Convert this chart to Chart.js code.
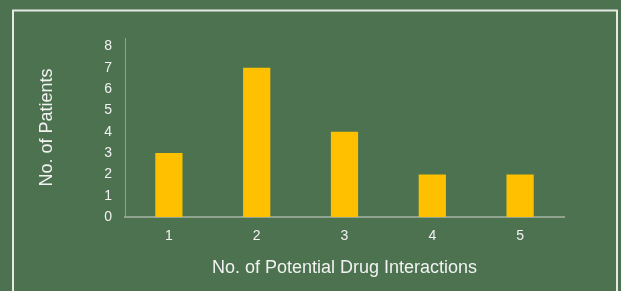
<html>
  <head>
    <script src="https://cdn.jsdelivr.net/npm/chart.js@4.4.1/dist/chart.umd.min.js"></script>
    <style>
      html, body { margin: 0; padding: 0; background: #4d724f; }
      #wrap { width: 621px; height: 291px; }
    </style>
  </head>
  <body>
    <div id="wrap"><canvas id="bar-chart" width="621" height="291"></canvas></div>
  </body>
  <script>
    // values
    var interactions = ['1', '2', '3', '4', '5'];
    var patients = [3, 7, 4, 2, 2];
    var yTicks = [0, 1, 2, 3, 4, 5, 6, 7, 8];

    var textColor = '#f2f2f2';
    var axisColor = '#8fa38f';

    // green slide background + white frame
    var backdrop = {
      id: 'backdrop',
      beforeDraw: function(chart) {
        var ctx = chart.ctx;
        ctx.save();
        ctx.fillStyle = '#4d724f';
        ctx.fillRect(0, 0, chart.width, chart.height);
        ctx.strokeStyle = '#e4eae2';
        ctx.lineWidth = 2;
        ctx.strokeRect(13, 10.5, 604, 300);
        ctx.restore();
      }
    };

    new Chart(document.getElementById('bar-chart'), {
      type: 'bar',
      data: {
        labels: interactions,
        datasets: [{
          data: patients,
          backgroundColor: '#ffc000',
          categoryPercentage: 1,
          barPercentage: 0.31
        }]
      },
      options: {
        responsive: false,
        animation: false,
        layout: { padding: { top: 38, right: 57, left: 0, bottom: 0 } },
        plugins: { legend: { display: false }, tooltip: { enabled: false } },
        scales: {
          x: {
            grid: { display: false, drawTicks: false },
            border: { color: axisColor, width: 2 },
            ticks: { color: textColor, padding: 11, font: { family: 'Liberation Sans', size: 14 } },
            title: {
              display: true,
              text: 'No. of Potential Drug Interactions',
              color: textColor,
              font: { family: 'Liberation Sans', size: 18 },
              padding: { top: 0, bottom: 12 }
            },
            afterFit: function(scale) { scale.height = 74; }
          },
          y: {
            min: 0,
            max: 8.4,
            grid: { display: false, drawTicks: false },
            border: { color: axisColor, width: 1 },
            afterBuildTicks: function(scale) {
              scale.ticks = yTicks.map(function(v) { return { value: v }; });
            },
            ticks: { color: textColor, padding: 13, font: { family: 'Liberation Sans', size: 14 } },
            title: {
              display: true,
              text: 'No. of Patients',
              color: textColor,
              font: { family: 'Liberation Sans', size: 18 },
              padding: { top: 36, bottom: 0 }
            },
            afterFit: function(scale) { scale.width = 125; }
          }
        }
      },
      plugins: [backdrop]
    });
  </script>
</html>
